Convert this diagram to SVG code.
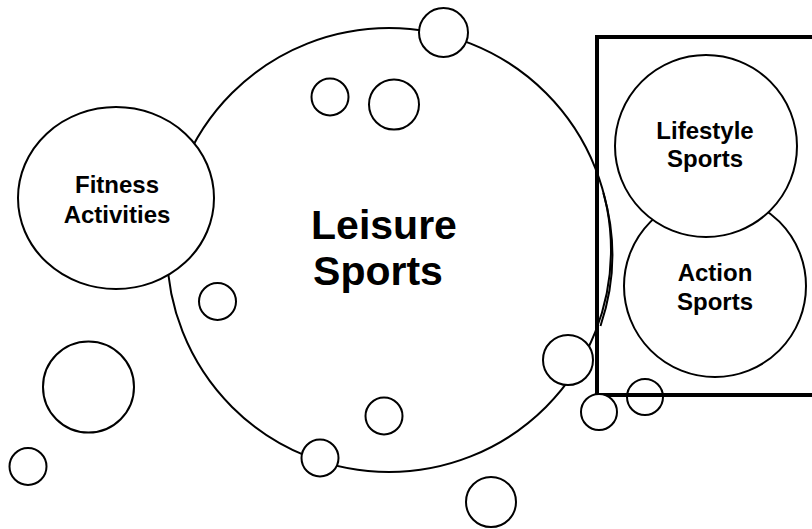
<svg xmlns="http://www.w3.org/2000/svg" width="812" height="529" viewBox="0 0 812 529">
<style>
.c{fill:#fff;stroke:#000;stroke-width:2}
.o{fill:none;stroke:#000;stroke-width:2}
.t{font-family:"Liberation Sans",Arial,sans-serif;font-weight:bold;fill:#000;text-anchor:middle}
.s{font-size:24px}
.b{font-size:41px}
</style>
<rect width="812" height="529" fill="#fff"/>
<g id="leisure">
<circle class="o" cx="389" cy="250" r="222"/>
<text class="t b" x="384" y="239">Leisure</text>
<text class="t b" x="378" y="285">Sports</text>
</g>
<g id="frame">
<rect x="597" y="37" width="230" height="358" fill="none" stroke="#000" stroke-width="4"/>
</g>
<g id="arc-over-frame">
<path class="o" d="M 603.4 193 A 222 222 0 0 1 600.5 326"/>
</g>
<g id="action">
<circle class="c" cx="715" cy="286" r="91"/>
<text class="t s" x="715" y="281">Action</text>
<text class="t s" x="715" y="310">Sports</text>
</g>
<g id="lifestyle">
<circle class="c" cx="706" cy="146" r="91"/>
<text class="t s" x="705" y="139">Lifestyle</text>
<text class="t s" x="705" y="167">Sports</text>
</g>
<g id="fitness">
<ellipse class="c" cx="116" cy="198" rx="98" ry="91"/>
<text class="t s" x="117" y="193">Fitness</text>
<text class="t s" x="117" y="223">Activities</text>
</g>
<g id="bubbles">
<circle class="c" cx="443.5" cy="32.5" r="24.5"/>
<circle class="c" cx="330" cy="97" r="18.5"/>
<circle class="c" cx="394" cy="104.5" r="25"/>
<circle class="c" cx="217.5" cy="301.5" r="18.5"/>
<circle class="c" cx="88.5" cy="387" r="45.5"/>
<circle class="c" cx="28" cy="466.5" r="18.5"/>
<circle class="c" cx="384" cy="416" r="18.5"/>
<circle class="c" cx="320" cy="458" r="18.5"/>
<circle class="c" cx="568" cy="360" r="25"/>
<circle class="c" cx="599" cy="412" r="18"/>
<circle class="o" cx="645" cy="397" r="18"/>
<circle class="c" cx="491" cy="502" r="25"/>
</g>
</svg>
